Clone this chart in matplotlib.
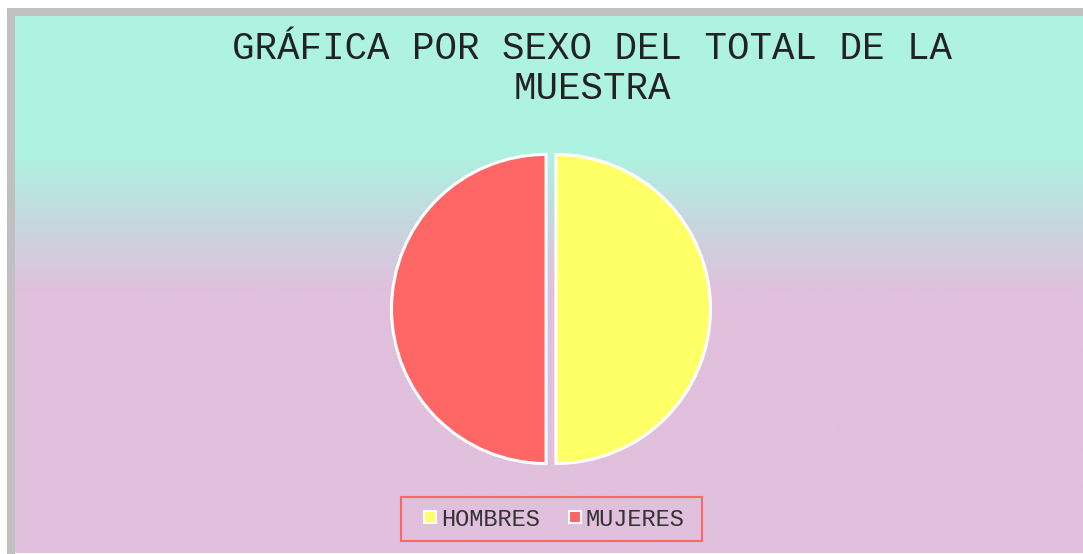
import numpy as np
from matplotlib import pyplot as plt
from matplotlib.lines import Line2D
from matplotlib.colors import LinearSegmentedColormap
import matplotlib.patches as mpatches

labels = ['HOMBRES', 'MUJERES']
values = [50, 50]
colors = ['#ffff66', '#ff6666']
title = 'GRÁFICA POR SEXO DEL TOTAL DE LA\nMUESTRA'

W, H = 1083, 554
fig = plt.figure(figsize=(W / 100, H / 100), dpi=100)
fig.patch.set_facecolor('white')

# gray frame (left + top)
fig.patches.append(mpatches.Rectangle((7 / W, 0), 8 / W, (H - 8) / H, transform=fig.transFigure,
                                      facecolor='#c0c0c0', edgecolor='none', zorder=0))
fig.patches.append(mpatches.Rectangle((7 / W, (H - 16) / H), (W - 7) / W, 8 / H, transform=fig.transFigure,
                                      facecolor='#c0c0c0', edgecolor='none', zorder=0))

# gradient background
bg = fig.add_axes([15 / W, 1 / H, (W - 15) / W, (H - 17) / H])
bg.axis('off')
cmap = LinearSegmentedColormap.from_list('bg', [(0.0, '#aef3e1'), (0.25, '#aef3e1'),
                                                (0.38, '#c5d8df'), (0.51, '#e0c0dc'),
                                                (1.0, '#e0c0dc')])
grad = np.linspace(0, 1, 256).reshape(-1, 1)
bg.imshow(grad, aspect='auto', cmap=cmap, extent=[0, 1, 0, 1], origin='upper')
bg.set_xlim(0, 1)
bg.set_ylim(0, 1)

# pie
cx, cy, half = 551, H - 309, 170
ax = fig.add_axes([(cx - half) / W, (cy - half) / H, 2 * half / W, 2 * half / H])
ax.pie(values, colors=colors, startangle=90, counterclock=False,
       explode=[0.032, 0.032],
       wedgeprops=dict(edgecolor='white', linewidth=2.2))
ax.set_xlim(-1.1, 1.1)
ax.set_ylim(-1.1, 1.1)
ax.set_aspect('equal')
ax.axis('off')

fig.text(592 / W, (H - 69) / H, title, ha='center', va='center', multialignment='center',
         fontsize=27, family='Liberation Mono', color='#222222', linespacing=1.12)

# legend box
fig.patches.append(mpatches.Rectangle((401 / W, (H - 541) / H), 301 / W, 44 / H, transform=fig.transFigure,
                                      facecolor='none', edgecolor='#ff6666', linewidth=1.5, zorder=5))
handles = [Line2D([], [], linestyle='none', marker='s', markersize=9, markerfacecolor=c,
                  markeredgecolor='white', markeredgewidth=1.5) for c in colors]
leg = fig.legend(handles, labels, loc='center', bbox_to_anchor=(554 / W, 35 / H), ncol=2,
                 prop={'family': 'Liberation Mono', 'size': 17}, frameon=False,
                 handlelength=0.6, handletextpad=0.15, columnspacing=1.2,
                 labelcolor='#333333')

fig.savefig('out.png', dpi=100)
